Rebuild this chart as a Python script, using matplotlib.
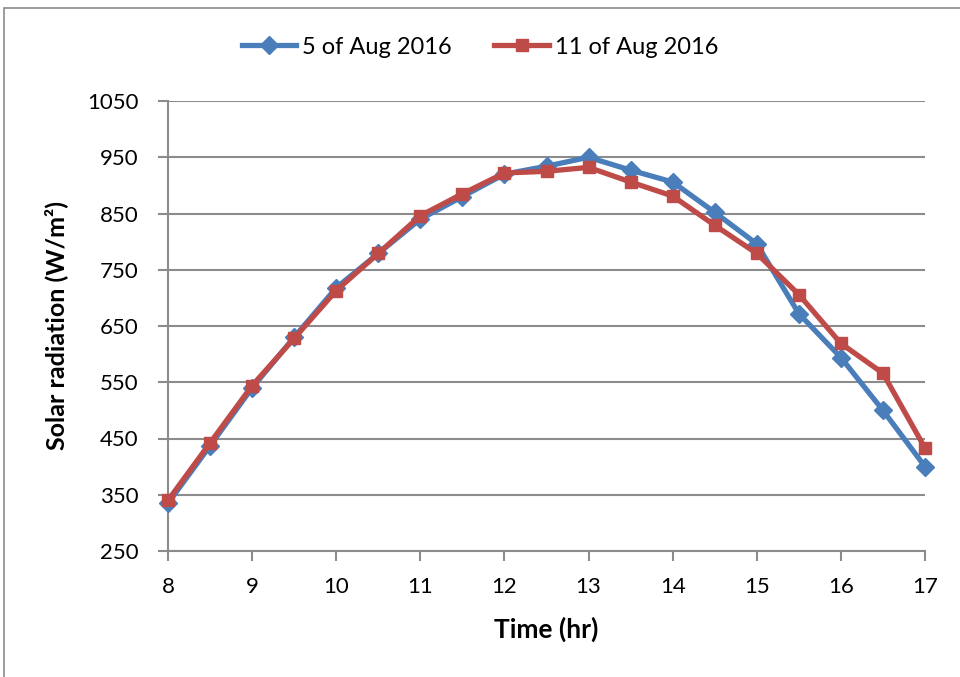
import matplotlib
matplotlib.use("Agg")
import matplotlib.pyplot as plt
from matplotlib.patches import Rectangle

hours = [8, 8.5, 9, 9.5, 10, 10.5, 11, 11.5, 12, 12.5, 13, 13.5, 14, 14.5, 15, 15.5, 16, 16.5, 17]
aug5 = [335, 437, 540, 630, 718, 779, 840, 880, 920, 934, 950, 927, 906, 852, 796, 672, 594, 500, 400]
aug11 = [340, 442, 544, 628, 713, 779, 846, 885, 922, 925, 932, 906, 881, 829, 779, 706, 619, 566, 433]
x_ticks = [8, 9, 10, 11, 12, 13, 14, 15, 16, 17]
y_ticks = [250, 350, 450, 550, 650, 750, 850, 950, 1050]
labels = ["5 of Aug 2016", "11 of Aug 2016"]

plt.rcParams['font.family'] = ['Lato', 'DejaVu Sans']

fig = plt.figure(figsize=(9.6, 6.77), dpi=100)
fig.patches.append(Rectangle((4/960, -0.1), 2, 1.1 - 8/677, transform=fig.transFigure,
                             fill=False, edgecolor='#8c8c8c', linewidth=1.2))
ax = fig.add_axes([168/960, 1 - 551/677, (925 - 168)/960, 450/677])

blue = '#4A7EBB'
red = '#BE4B48'
ax.plot(hours, aug5, color=blue, linewidth=3.8, marker='D', markersize=9,
        markerfacecolor=blue, markeredgecolor=blue, label=labels[0], zorder=3, clip_on=False)
ax.plot(hours, aug11, color=red, linewidth=3.8, marker='s', markersize=9,
        markerfacecolor=red, markeredgecolor=red, label=labels[1], zorder=4, clip_on=False)

ax.set_xlim(8, 17)
ax.set_ylim(250, 1050)
ax.set_xticks(x_ticks)
ax.set_yticks(y_ticks)
ax.grid(axis='y', color='#8c8c8c', linewidth=1.5)
ax.set_axisbelow(True)
for s in ['top', 'right']:
    ax.spines[s].set_visible(False)
for s in ['left', 'bottom']:
    ax.spines[s].set_color('#8c8c8c')
    ax.spines[s].set_linewidth(1.5)
ax.tick_params(axis='both', colors='#8c8c8c', labelcolor='black', labelsize=16,
               length=7, width=1.5)
ax.tick_params(axis='x', pad=12)
ax.tick_params(axis='y', pad=14)
ax.set_xlabel('Time (hr)', fontsize=19, fontweight='bold', labelpad=14)
ax.set_ylabel('Solar radiation (W/m²)', fontsize=18, fontweight='bold', labelpad=14)

leg = fig.legend(loc='center', bbox_to_anchor=(0.5, 1 - 47/677), ncol=2, frameon=False,
                 fontsize=17, handlelength=2.3, columnspacing=1.8, handletextpad=0.25)

fig.savefig('out.png', dpi=100)
